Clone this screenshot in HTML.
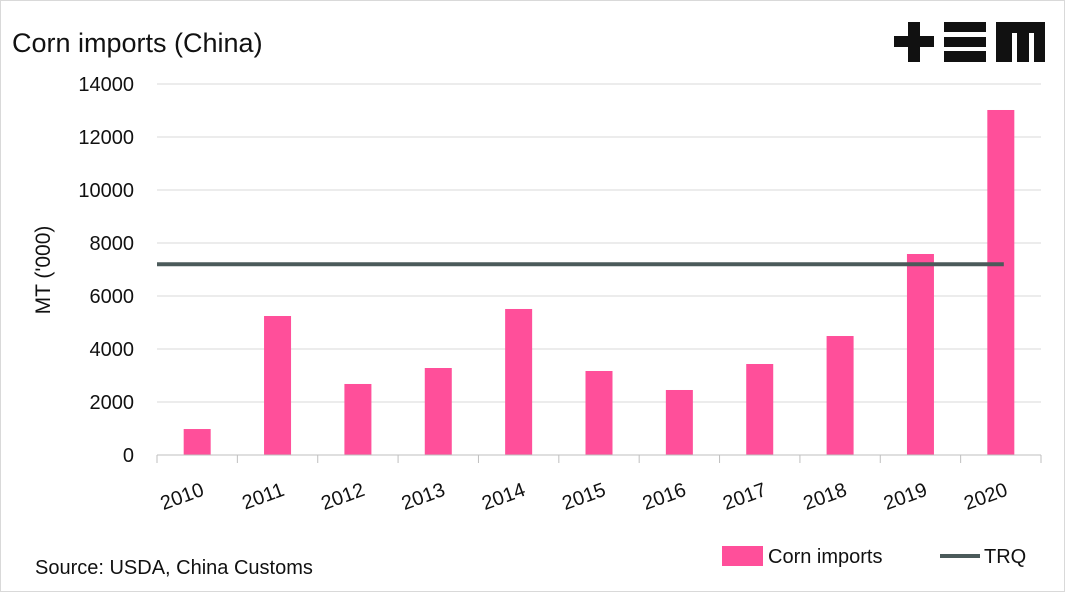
<!DOCTYPE html>
<html><head><meta charset="utf-8"><style>
body{margin:0;background:#fff;}
svg{display:block;font-family:"Liberation Sans",sans-serif;}
</style></head><body>
<svg width="1065" height="592" viewBox="0 0 1065 592">
<rect x="0.5" y="0.5" width="1064" height="591" fill="#fff" stroke="#d9d9d9"/>
<text x="12" y="52" font-size="27" fill="#111">Corn imports (China)</text>
<g fill="#111">
<rect x="894" y="36" width="40" height="11"/><rect x="908" y="22" width="12" height="40"/>
<rect x="944" y="22" width="42" height="10"/><rect x="944" y="37" width="42" height="10"/><rect x="944" y="51" width="42" height="11"/>
<path d="M996 22H1045V62H1034V33H1029V62H1017V33H1012V62H996Z"/>
</g>
<g id="grid"></g><g id="bars"></g><g id="axes"></g>
<text transform="translate(50,270) rotate(-90)" text-anchor="middle" font-size="21" fill="#111">MT ('000)</text>
<text x="35" y="574" font-size="20" fill="#111">Source: USDA, China Customs</text>
<g>
<rect x="722" y="546" width="41" height="20" fill="#ff4f9a"/>
<text x="768" y="563" font-size="20" fill="#111">Corn imports</text>
<line x1="940" y1="556" x2="980" y2="556" stroke="#4b5a5a" stroke-width="4"/>
<text x="984" y="563" font-size="20" fill="#111">TRQ</text>
</g>
</svg>
<script>
const categories=["2010","2011","2012","2013","2014","2015","2016","2017","2018","2019","2020"];
const cornImports=[980,5245,2680,3283,5510,3170,2453,3434,4490,7585,13019];
const trqValue=[7200];
const yTicks=[0,2000,4000,6000,8000,10000,12000,14000];
const NS="http://www.w3.org/2000/svg";
const x0=157,x1=1041,yb=455,yt=84,ymax=14000;
const bw=(x1-x0)/categories.length;
const y=v=>yb-(v/ymax)*(yb-yt);
const xc=i=>x0+bw*(i+0.5);
function mk(tag,attrs,parent){const e=document.createElementNS(NS,tag);for(const k in attrs)e.setAttribute(k,attrs[k]);document.getElementById(parent).appendChild(e);return e;}
yTicks.forEach(t=>{
 if(t>0){const g=mk('line',{x1:x0,x2:x1,y1:y(t),y2:y(t),stroke:'#d9d9d9','stroke-width':1},'grid');
 
 }
 const l=mk('text',{x:134,y:y(t)+7,'text-anchor':'end','font-size':20,fill:'#111'},'axes');
 l.textContent=t;
 
 
});
categories.forEach((c,i)=>{
 const h=yb-y(cornImports[i]);
 const b=mk('rect',{x:xc(i)-13.5,y:y(cornImports[i]),width:27,height:h,fill:'#ff4f9a'},'bars');
 
 
 const t=mk('text',{transform:`translate(${xc(i)+8},${yb+40}) rotate(-20)`,'text-anchor':'end','font-size':20,fill:'#111'},'axes');
 t.textContent=c;
 
 
});
for(let i=0;i<=categories.length;i++){
 const tk=mk('line',{x1:x0+bw*i,x2:x0+bw*i,y1:yb,y2:yb+8,stroke:'#bfbfbf'},'axes');
 
 
}
const ax=mk('line',{x1:x0,x2:x1,y1:yb,y2:yb,stroke:'#bfbfbf'},'axes');


const trq=mk('line',{x1:x0,x2:xc(categories.length-1)+3,y1:y(trqValue[0]),y2:y(trqValue[0]),stroke:'#4b5a5a','stroke-width':4},'bars');


</script>
</body></html>
